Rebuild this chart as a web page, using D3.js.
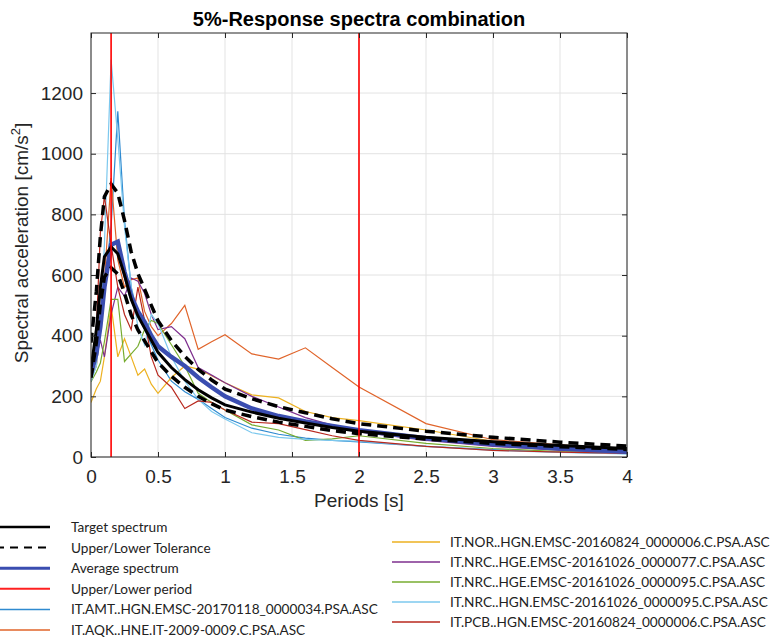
<!DOCTYPE html>
<html lang="en">

<head>
    <script src="https://d3js.org/d3.v7.min.js"></script>
    <style>
        body {
            margin: 0;
            background: #fff;
        }

        .axis text {
            font-family: "Liberation Sans", Arial, sans-serif;
            font-size: 19px;
            fill: #262626;
        }

        .axis line {
            stroke: #262626;
        }

        .axis path {
            display: none;
        }

        .grid line {
            stroke: #e3e3e3;
            stroke-width: 1;
        }
    </style>
</head>

<body>
    <svg width="774" height="639"></svg>

    <script>
        // periods [s] at which the spectra are sampled
        var periods = [0, 0.04, 0.07, 0.1, 0.15, 0.2, 0.25, 0.3, 0.35, 0.4, 0.45, 0.5, 0.6, 0.7, 0.8, 0.9, 1.0, 1.2, 1.4, 1.6, 1.8, 2.0, 2.5, 3.0, 3.5, 4.0];

        // spectral accelerations [cm/s2]
        var target = [290, 420, 560, 660, 693, 670, 600, 520, 465, 425, 385, 345, 295, 255, 222, 195, 172, 148, 128, 112, 97, 85, 65, 50, 38, 28];
        var upperTol = [377, 546, 728, 858, 900, 870, 780, 676, 605, 553, 500, 449, 384, 332, 289, 254, 224, 192, 166, 146, 126, 110, 85, 65, 49, 36];
        var lowerTol = [261, 378, 504, 594, 624, 603, 540, 468, 419, 383, 347, 311, 266, 230, 200, 176, 155, 133, 115, 101, 87, 77, 59, 45, 34, 25];
        var average = [275, 340, 430, 560, 700, 710, 610, 530, 480, 445, 400, 365, 330, 300, 262, 230, 200, 160, 135, 117, 102, 88, 62, 42, 28, 17];

        var amt = [270, 320, 450, 560, 760, 1140, 780, 560, 470, 420, 370, 320, 250, 215, 190, 160, 130, 95, 75, 62, 55, 50, 35, 24, 16, 11];
        var aqk = [260, 300, 420, 580, 920, 650, 560, 585, 590, 480, 430, 400, 440, 500, 355, 380, 403, 340, 323, 360, 295, 231, 110, 57, 40, 25];
        var nor = [180, 225, 250, 330, 500, 330, 390, 330, 270, 290, 240, 210, 262, 300, 290, 268, 245, 205, 195, 150, 130, 120, 89, 52, 35, 22];
        var nrc77 = [290, 330, 385, 330, 470, 560, 530, 590, 580, 540, 470, 420, 430, 390, 295, 270, 245, 200, 165, 130, 105, 83, 55, 35, 22, 15];
        var hge95 = [248, 280, 310, 380, 520, 520, 315, 340, 365, 420, 450, 440, 370, 300, 210, 180, 155, 106, 89, 55, 60, 70, 45, 28, 18, 12];
        var hgn95 = [250, 300, 420, 700, 1310, 1050, 760, 560, 430, 370, 470, 440, 330, 250, 190, 150, 125, 80, 65, 58, 55, 52, 35, 22, 15, 10];
        var pcb = [300, 420, 740, 860, 700, 560, 470, 420, 560, 450, 330, 270, 230, 160, 185, 180, 155, 115, 110, 90, 70, 55, 35, 22, 16, 12];

        // upper / lower period limits
        var periodLimits = [0.15, 2.0];

        var xTicks = [0, 0.5, 1, 1.5, 2, 2.5, 3, 3.5, 4];
        var yTicks = [0, 200, 400, 600, 800, 1000, 1200];

        var records = [
            { name: "IT.AMT..HGN.EMSC-20170118_0000034.PSA.ASC", values: amt, color: "#2f8ad0" },
            { name: "IT.AQK..HNE.IT-2009-0009.C.PSA.ASC", values: aqk, color: "#e0642a" },
            { name: "IT.NOR..HGN.EMSC-20160824_0000006.C.PSA.ASC", values: nor, color: "#edb120" },
            { name: "IT.NRC..HGE.EMSC-20161026_0000077.C.PSA.ASC", values: nrc77, color: "#7e2f8e" },
            { name: "IT.NRC..HGE.EMSC-20161026_0000095.C.PSA.ASC", values: hge95, color: "#77ac30" },
            { name: "IT.NRC..HGN.EMSC-20161026_0000095.C.PSA.ASC", values: hgn95, color: "#7cc8ee" },
            { name: "IT.PCB..HGN.EMSC-20160824_0000006.C.PSA.ASC", values: pcb, color: "#b8281e" }
        ];

        var svg = d3.select("svg");
        var pL = 91, pR = 627, pT = 33, pB = 457;

        var x = d3.scaleLinear().domain([0, 4]).range([pL, pR]);
        var y = d3.scaleLinear().domain([0, 1398]).range([pB, pT]);

        //grid
        svg.append("g").attr("class", "grid")
            .selectAll("line").data(xTicks).enter().append("line")
            .attr("x1", function (d) { return x(d); }).attr("x2", function (d) { return x(d); })
            .attr("y1", pT).attr("y2", pB);
        svg.append("g").attr("class", "grid")
            .selectAll("line").data(yTicks).enter().append("line")
            .attr("y1", function (d) { return y(d); }).attr("y2", function (d) { return y(d); })
            .attr("x1", pL).attr("x2", pR);

        svg.append("clipPath").attr("id", "plotclip")
            .append("rect").attr("x", pL).attr("y", pT)
            .attr("width", pR - pL).attr("height", pB - pT);

        var plot = svg.append("g").attr("clip-path", "url(#plotclip)");

        var line = d3.line()
            .x(function (d, i) { return x(periods[i]); })
            .y(function (d) { return y(d); });

        //single records
        plot.selectAll(".rec").data(records).enter().append("path")
            .attr("class", "rec")
            .attr("d", function (d) { return line(d.values); })
            .attr("fill", "none")
            .attr("stroke", function (d) { return d.color; })
            .attr("stroke-width", 1.2);

        //average, target and tolerance
        plot.append("path").attr("d", line(average))
            .attr("fill", "none").attr("stroke", "#3a4db0").attr("stroke-width", 4.5);
        plot.append("path").attr("d", line(target))
            .attr("fill", "none").attr("stroke", "#000").attr("stroke-width", 3);
        [upperTol, lowerTol].forEach(function (t) {
            plot.append("path").attr("d", line(t))
                .attr("fill", "none").attr("stroke", "#000").attr("stroke-width", 3.5)
                .attr("stroke-dasharray", "10,6");
        });

        //period limits
        plot.selectAll(".lim").data(periodLimits).enter().append("line")
            .attr("x1", function (d) { return x(d); }).attr("x2", function (d) { return x(d); })
            .attr("y1", pT).attr("y2", pB)
            .attr("stroke", "#ff0000").attr("stroke-width", 1.6);

        //axes, ticks pointing inwards
        svg.append("g").attr("class", "axis")
            .attr("transform", "translate(0," + pB + ")")
            .call(d3.axisBottom(x).tickValues(xTicks).tickSize(-5).tickPadding(13).tickFormat(d3.format("")));
        svg.append("g").attr("class", "axis")
            .attr("transform", "translate(0," + pT + ")")
            .call(d3.axisTop(x).tickValues(xTicks).tickSize(-5).tickFormat(""));
        svg.append("g").attr("class", "axis")
            .attr("transform", "translate(" + pL + ",0)")
            .call(d3.axisLeft(y).tickValues(yTicks).tickSize(-5).tickPadding(8).tickFormat(d3.format("d")));
        svg.append("g").attr("class", "axis")
            .attr("transform", "translate(" + pR + ",0)")
            .call(d3.axisRight(y).tickValues(yTicks).tickSize(-5).tickFormat(""));

        svg.append("rect")
            .attr("x", pL).attr("y", pT)
            .attr("width", pR - pL).attr("height", pB - pT)
            .attr("fill", "none").attr("stroke", "#262626").attr("stroke-width", 1);

        //title and labels
        svg.append("text")
            .attr("x", (pL + pR) / 2).attr("y", 26)
            .attr("text-anchor", "middle")
            .style("font-family", "'Liberation Sans', Arial, sans-serif")
            .style("font-weight", "bold").style("font-size", "20px")
            .text("5%-Response spectra combination");

        svg.append("text")
            .attr("x", (pL + pR) / 2).attr("y", 507)
            .attr("text-anchor", "middle")
            .style("font-family", "'Liberation Sans', Arial, sans-serif")
            .style("font-size", "19px").style("fill", "#262626")
            .text("Periods [s]");

        var yl = svg.append("text")
            .attr("transform", "translate(28,243) rotate(-90)")
            .attr("text-anchor", "middle")
            .style("font-family", "'Liberation Sans', Arial, sans-serif")
            .style("font-size", "19px").style("fill", "#262626");
        yl.append("tspan").text("Spectral acceleration [cm/s");
        yl.append("tspan").attr("dy", -8).style("font-size", "13px").text("2");
        yl.append("tspan").attr("dy", 8).text("]");

        //legend
        var legendLeft = [
            { name: "Target spectrum", color: "#000", width: 2.5, dash: null },
            { name: "Upper/Lower Tolerance", color: "#000", width: 2, dash: "8,6" },
            { name: "Average spectrum", color: "#3a4db0", width: 3, dash: null },
            { name: "Upper/Lower period", color: "#ff2020", width: 2, dash: null }
        ].concat(records.slice(0, 2).map(function (r) {
            return { name: r.name, color: r.color, width: 1.5, dash: null };
        }));
        var legendRight = records.slice(2).map(function (r) {
            return { name: r.name, color: r.color, width: 1.5, dash: null };
        });

        var legend = svg.append("g")
            .style("font-family", "Lato, 'Open Sans', sans-serif")
            .style("fill", "#222");

        function drawLegend(items, x0, x1, tx, y0, dy) {
            items.forEach(function (d, i) {
                var yy = y0 + i * dy;
                legend.append("line")
                    .attr("x1", x0).attr("x2", x1).attr("y1", yy).attr("y2", yy)
                    .attr("stroke", d.color).attr("stroke-width", d.width)
                    .attr("stroke-dasharray", d.dash);
                legend.append("text").attr("class", "lt")
                    .attr("x", tx).attr("y", yy + 5)
                    .style("font-size", "16px")
                    .text(d.name);
            });
        }
        drawLegend(legendLeft, -4, 50, 71, 527, 20.6);
        drawLegend(legendRight, 392, 440, 450, 542, 20);

        // fit legend font to the width of the long labels
        var probe = legend.selectAll("text.lt").filter(function () {
            return this.textContent === legendRight[0].name;
        }).node();
        var k = 320 / probe.getComputedTextLength();
        legend.selectAll("text.lt").style("font-size", (16 * k) + "px");
    </script>
</body>

</html>
